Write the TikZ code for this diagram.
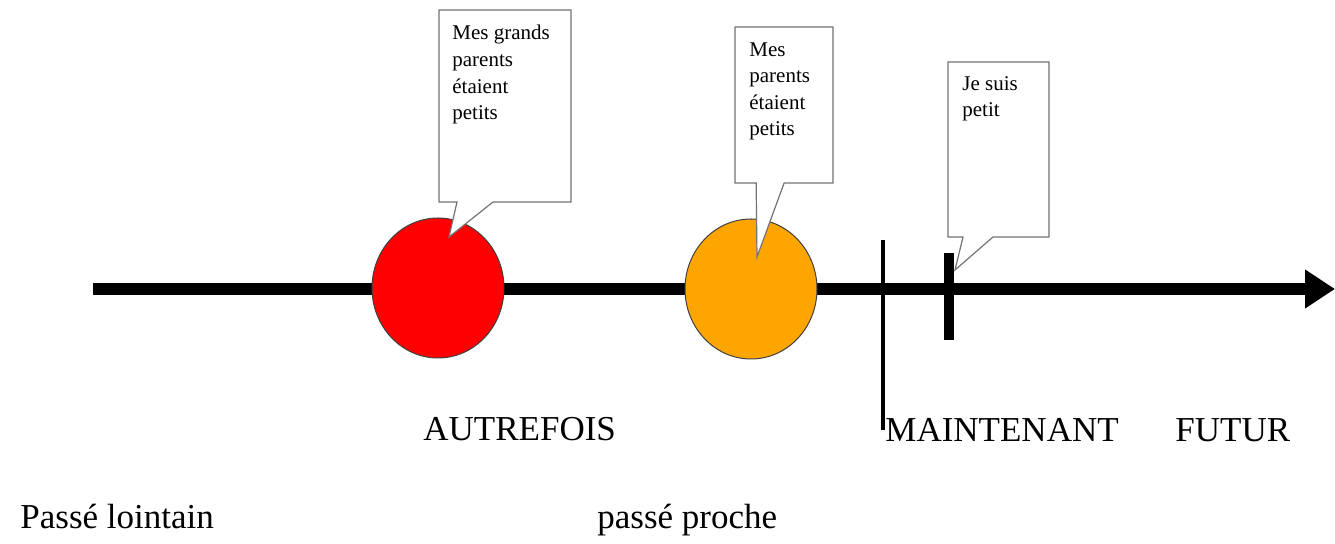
\documentclass[tikz,border=0pt]{standalone}
\usepackage{fontspec}
\setmainfont{Liberation Serif}
\usetikzlibrary{arrows.meta,shapes.geometric,shapes.callouts}
\newcommand\axisColor{black}
\newcommand\axisLineWidth{6pt}
\newcommand\bubbleColor{black!55}
\newcommand\bubbleLineWidth{0.6pt}
\newcommand\dotLineColor{black!75}
\definecolor{farRed}{RGB}{255,0,0}
\definecolor{nearOrange}{RGB}{255,165,0}
\tikzset{
    bigLabel/.style={anchor=base west, inner sep=0pt, font=\fontsize{17.5}{21}\selectfont},
    bubbleText/.style={anchor=north west, inner sep=0pt, align=left, font=\fontsize{10.5}{13.3}\selectfont},
    bubbleBox/.style={rectangle callout, draw=\bubbleColor, line width=\bubbleLineWidth, fill=white, inner sep=0pt},
    timeDot/.style={ellipse, draw=\dotLineColor, line width=0.5pt, minimum width=66pt, minimum height=70pt, inner sep=0pt}
}
\begin{document}
\begin{tikzpicture}[x=0.5pt,y=-0.5pt]

    \useasboundingbox (0,0) rectangle (1335,544);

    \coordinate (Axis_Start) at (93,289);
    \coordinate (Axis_End) at (1335,289);
    \draw [draw=\axisColor, line width=\axisLineWidth, -{Triangle[length=15pt,width=18.5pt]}] (Axis_Start) -- (Axis_End);

    \node (Dot_Autrefois) [timeDot, fill=farRed] at (438,288) {};
    \node (Dot_Proche) [timeDot, fill=nearOrange] at (751,289) {};

%    maintenant and moi
    \coordinate (Now_Top) at (883,240);
    \coordinate (Now_Bottom) at (883,430);
    \draw [draw=\axisColor, line width=2pt] (Now_Top) -- (Now_Bottom);
    \coordinate (Me_Top) at (949,253);
    \coordinate (Me_Bottom) at (949,340);
    \draw [draw=\axisColor, line width=5pt] (Me_Top) -- (Me_Bottom);

%    bubbles
    \coordinate (Tip_Grands) at (449,237);
    \coordinate (Tip_Parents) at (757,257);
    \coordinate (Tip_Moi) at (955,270);
    \node (Bubble_Grands) [bubbleBox, minimum width=66pt, minimum height=96pt, callout pointer width=18pt, callout absolute pointer=(Tip_Grands)] at (505,106) {};
    \node (Bubble_Parents) [bubbleBox, minimum width=49pt, minimum height=78pt, callout pointer width=14pt, callout absolute pointer=(Tip_Parents)] at (784,105) {};
    \node (Bubble_Moi) [bubbleBox, minimum width=50.5pt, minimum height=87.5pt, callout pointer width=15pt, callout absolute pointer=(Tip_Moi)] at (998.5,149.5) {};

    \node (Text_Grands) [bubbleText] at (452,25) {Mes grands\\parents\\étaient\\petits};
    \node (Text_Parents) [bubbleText] at (749,42) {Mes\\parents\\étaient\\petits};
    \node (Text_Moi) [bubbleText] at (962,76) {Je suis\\petit};

%    labels
    \node (Label_Autrefois) [bigLabel] at (423,441) {AUTREFOIS};
    \node (Label_Maintenant) [bigLabel] at (885,442) {MAINTENANT};
    \node (Label_Futur) [bigLabel] at (1175,442) {FUTUR};
    \node (Label_Lointain) [bigLabel] at (20,529) {Passé lointain};
    \node (Label_Proche) [bigLabel] at (597,529) {passé proche};

\end{tikzpicture}
\end{document}
